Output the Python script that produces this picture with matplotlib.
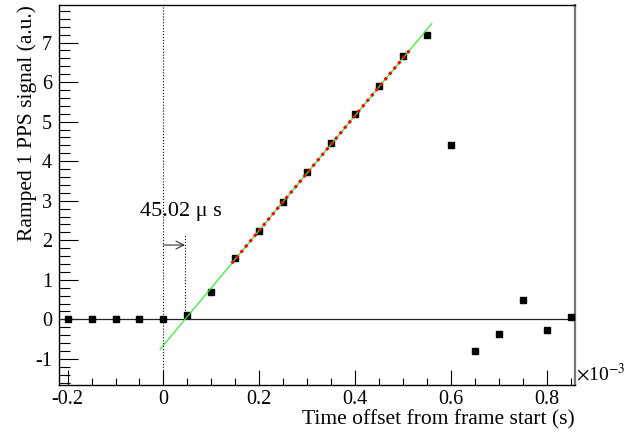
import numpy as np
import matplotlib.pyplot as plt

plt.rcParams['font.family'] = ['Liberation Serif', 'DejaVu Serif']
plt.rcParams['mathtext.fontset'] = 'stix'
plt.rcParams['axes.unicode_minus'] = False

# data (x in units of 1e-3 s)
time_offset = [-0.20, -0.15, -0.10, -0.05, 0.00, 0.05, 0.10, 0.15, 0.20, 0.25, 0.30,
               0.35, 0.40, 0.45, 0.50, 0.55, 0.60, 0.65, 0.70, 0.75, 0.80, 0.85]
signal = [0.0, 0.0, 0.0, 0.0, 0.0, 0.11, 0.69, 1.56, 2.23, 2.97, 3.73,
          4.46, 5.20, 5.91, 6.65, 7.18, 4.40, -0.80, -0.36, 0.50, -0.28, 0.05]

# linear fit parameters
fit_slope = 14.52        # a.u. per 1e-3 s
fit_zero = 0.04502       # 45.02 us crossing
fit_range = [0.1425, 0.518]
extrap_range = [-0.007, 0.56]

fig = plt.figure(figsize=(6.25, 4.36), dpi=100)
ax = fig.add_axes([0.0944, 0.117, 0.8256, 0.8715])

ax.plot(time_offset, signal, 's', color='black', markersize=4.6, zorder=3, clip_on=False)

xe = np.array(extrap_range)
ax.plot(xe, fit_slope * (xe - fit_zero), color='#33ee33', lw=0.9, zorder=4)
xf = np.array(fit_range)
ax.plot(xf, fit_slope * (xf - fit_zero), color='red', lw=2.2,
        linestyle=(0, (1, 1.3)), zorder=5)

ax.axhline(0, color='#222222', lw=0.9, zorder=2)
ax.axvline(0, color='black', lw=0.8, linestyle=':', zorder=2)
ax.plot([fit_zero, fit_zero], [0, 2.15], color='black', lw=0.8, linestyle=':', zorder=2)

ax.annotate('', xy=(fit_zero, 1.88), xytext=(0, 1.88),
            arrowprops=dict(arrowstyle='->', color='#333333', lw=0.8,
                            mutation_scale=14, shrinkA=0, shrinkB=0))
ax.text(0.036, 2.72, '45.02 \u03bc s', fontsize=16, ha='center', va='center')

ax.set_xlim(-0.218, 0.859)
ax.set_ylim(-1.66, 7.95)
ax.set_xticks([-0.2, 0, 0.2, 0.4, 0.6, 0.8])
ax.set_xticklabels(['-0.2', '0', '0.2', '0.4', '0.6', '0.8'])
ax.set_xticks(np.arange(-0.2, 0.86, 0.05), minor=True)
ax.set_yticks(range(-1, 8))
ax.set_yticks(np.arange(-1.6, 7.9, 0.2), minor=True)
ax.tick_params(which='both', direction='in', labelsize=14.5, top=False, right=False)
ax.tick_params(which='major', length=11, width=0.8)
ax.tick_params(which='minor', length=5, width=0.8)
ax.tick_params(axis='y', which='major', length=14, pad=5)
ax.tick_params(axis='y', which='minor', length=8)
ax.tick_params(axis='x', pad=3.5)

ax.spines['right'].set_color('#777777')
ax.spines['right'].set_linewidth(1.6)
for s in ['left', 'bottom', 'top']:
    ax.spines[s].set_linewidth(1.0)

ax.set_xlabel('Time offset from frame start (s)', fontsize=15.5, ha='right', x=1.0)
ax.set_ylabel('Ramped 1 PPS signal (a.u.)', fontsize=15.5, ha='right', y=1.0)
ax.xaxis.set_label_coords(1.0, -0.066)
ax.yaxis.set_label_coords(-0.042, 1.0)
ax.text(1.002, 0.0, r'$\times$10$^{-3}$', transform=ax.transAxes, fontsize=14,
        ha='left', va='bottom')

fig.savefig('out.png', dpi=100)
